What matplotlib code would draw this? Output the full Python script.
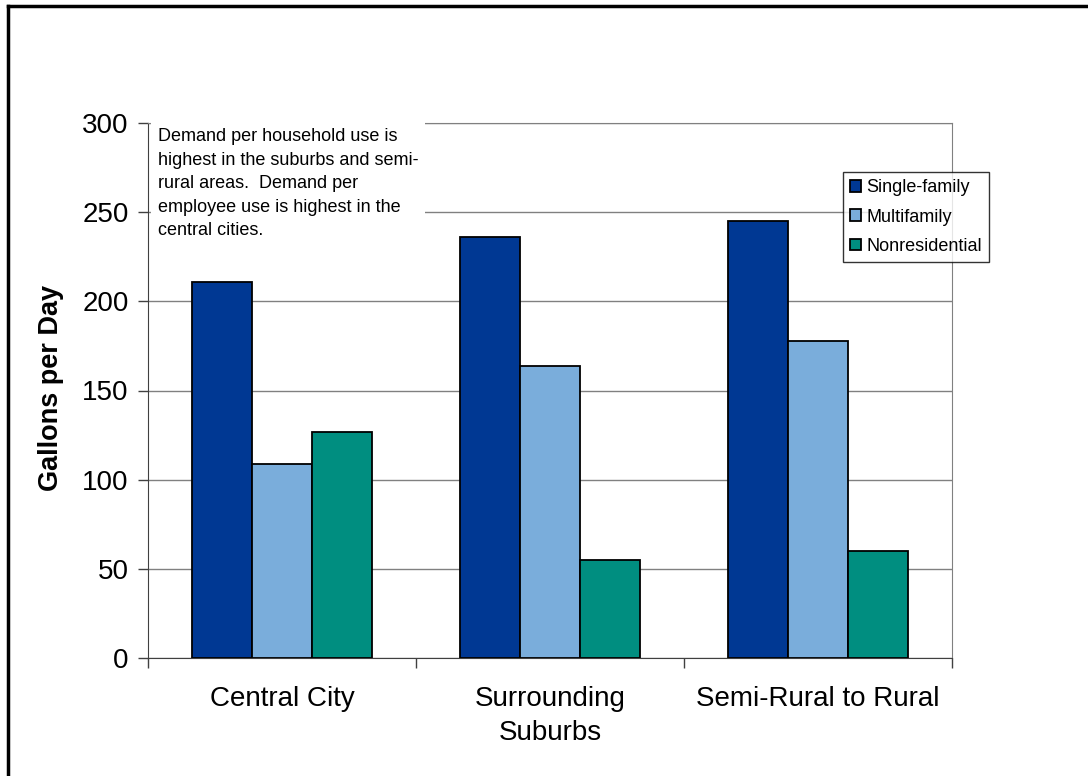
import matplotlib.pyplot as plt
import numpy as np
from matplotlib.lines import Line2D

plt.rcParams['font.family'] = ['Liberation Sans', 'DejaVu Sans']

# Daten
kategorien = ["Central City", "Surrounding\nSuburbs", "Semi-Rural to Rural"]
serien = ["Single-family", "Multifamily", "Nonresidential"]
single_family = [211, 236, 245]
multifamily = [109, 164, 178]
nonresidential = [127, 55, 60]
farben = ["#003893", "#7aaddb", "#008e80"]
notiz = ("Demand per household use is\nhighest in the suburbs and semi-\n"
         "rural areas.  Demand per\nemployee use is highest in the\ncentral cities.")

fig = plt.figure(figsize=(10.88, 7.76), dpi=100)
ax = fig.add_axes([148/1088, 1 - 658/776, (952-148)/1088, (658-123)/776])

x = np.arange(len(kategorien)) + 0.5
breite = 0.224
for i, (werte, name) in enumerate(zip([single_family, multifamily, nonresidential], serien)):
    ax.bar(x + (i - 1) * breite, werte, breite, color=farben[i], edgecolor="black",
           linewidth=1.3, label=name, zorder=3)

ax.set_xlim(0, 3)
ax.set_ylim(0, 300)
ax.set_yticks(np.arange(0, 301, 50))
ax.yaxis.grid(True, color="#808080", linewidth=1, zorder=0)
ax.set_xticks([0, 1, 2, 3])
ax.set_xticklabels([])
ax.set_xticks(x, minor=True)
ax.set_xticklabels(kategorien, minor=True, fontsize=20, linespacing=1.4)
ax.tick_params(axis="x", which="minor", length=0, pad=20)
ax.tick_params(axis="x", which="major", length=7, width=1, color="#404040")
ax.tick_params(axis="y", length=7, width=1, labelsize=20, pad=7, color="#404040")

for s in ["top", "right"]:
    ax.spines[s].set_color("#808080")
for s in ["left", "bottom"]:
    ax.spines[s].set_color("#404040")

ax.set_ylabel("Gallons per Day", fontsize=19.5, fontweight="bold")
ax.yaxis.set_label_coords(-(148 - 64) / (952 - 148), 0.505)

ax.text(0.012, 0.99, notiz, transform=ax.transAxes, fontsize=13, va="top", ha="left",
        linespacing=1.5, zorder=4,
        bbox=dict(facecolor="white", edgecolor="none", pad=5))

leg = ax.legend(loc="upper left", bbox_to_anchor=(843/1088, 1 - 172/776),
                bbox_transform=fig.transFigure, fontsize=13, frameon=True,
                fancybox=False, edgecolor="black", handlelength=0.6, handleheight=0.6,
                handletextpad=0.3, borderpad=0.4, labelspacing=0.68, borderaxespad=0)
leg.get_frame().set_linewidth(1)

# Rahmen oben und links
fig.add_artist(Line2D([8/1088, 8/1088], [0, 1 - 6/776], transform=fig.transFigure,
                      color="black", linewidth=2.5))
fig.add_artist(Line2D([8/1088, 1], [1 - 6/776, 1 - 6/776], transform=fig.transFigure,
                      color="black", linewidth=2.5))

fig.savefig("out.png", dpi=100)
